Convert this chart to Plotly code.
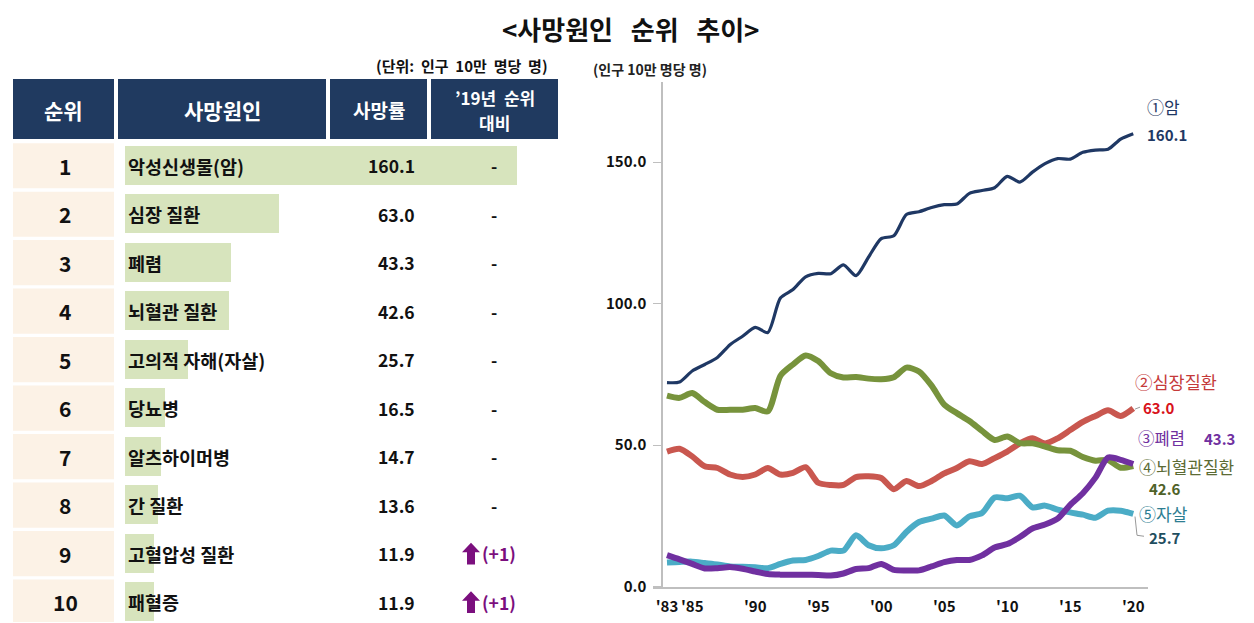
import plotly.graph_objects as go

# ---------------- data ----------------
years = list(range(1983, 2021))
cancer = [72.1, 72.3, 76.2, 78.5, 81.0, 85.5, 88.5, 91.6, 89.8, 102.0,
          105.0, 109.5, 110.7, 110.6, 113.7, 109.9, 116.5, 123.0, 124.0, 131.5,
          132.5, 134.0, 135.0, 135.2, 139.0, 140.0, 141.0, 145.0, 143.0, 146.5,
          149.5, 151.3, 151.1, 153.5, 154.3, 154.6, 158.2, 160.1]
heart = [47.7, 48.7, 46.0, 42.5, 41.9, 39.6, 38.7, 39.6, 41.9, 39.6,
         40.2, 42.2, 36.7, 35.9, 35.9, 38.7, 39.0, 38.4, 34.4, 37.3,
         35.5, 37.3, 40.0, 41.9, 44.3, 43.3, 45.4, 47.7, 50.6, 52.4,
         50.6, 52.4, 55.3, 58.2, 60.3, 62.3, 60.3, 63.0]
pneumonia = [11.1, 9.6, 8.0, 6.4, 6.5, 6.9, 6.3, 5.3, 4.4, 4.2,
             4.2, 4.2, 4.1, 3.9, 4.6, 6.2, 6.5, 8.0, 5.9, 5.7,
             5.7, 7.1, 8.6, 9.4, 9.4, 11.0, 13.8, 15.0, 17.5, 20.5,
             21.9, 24.0, 28.9, 33.0, 38.5, 45.6, 44.8, 43.3]
cerebro = [67.5, 66.7, 68.4, 65.2, 62.5, 62.5, 62.5, 63.1, 61.9, 74.5,
           78.5, 81.7, 79.7, 75.4, 73.9, 74.1, 73.5, 73.3, 74.0, 77.4,
           76.0, 71.0, 64.3, 61.3, 58.5, 55.0, 51.8, 53.0, 50.7, 50.6,
           49.5, 48.2, 48.0, 45.8, 44.5, 44.7, 42.0, 42.6]
suicide = [8.5, 8.7, 8.8, 8.3, 7.8, 7.1, 7.0, 6.8, 6.5, 8.0,
           9.2, 9.4, 10.8, 12.7, 12.7, 18.1, 14.6, 13.5, 14.6, 19.3,
           22.8, 24.0, 25.1, 21.6, 24.8, 26.0, 31.5, 31.2, 32.1, 28.0,
           28.6, 27.2, 26.2, 25.4, 24.3, 26.8, 26.8, 25.7]

x_tickvals = [1983, 1985, 1990, 1995, 2000, 2005, 2010, 2015, 2020]
x_ticktext = ["'83", "'85", "'90", "'95", "'00", "'05", "'10", "'15", "'20"]
y_tickvals = [0, 50, 100, 150]
y_ticktext = ["0.0", "50.0", "100.0", "150.0"]

ranks = [1, 2, 3, 4, 5, 6, 7, 8, 9, 10]
causes = ["악성신생물(암)", "심장 질환", "폐렴", "뇌혈관 질환", "고의적 자해(자살)",
          "당뇨병", "알츠하이머병", "간 질환", "고혈압성 질환", "패혈증"]
rates = [160.1, 63.0, 43.3, 42.6, 25.7, 16.5, 14.7, 13.6, 11.9, 11.9]
changes = ["-", "-", "-", "-", "-", "-", "-", "-", "(+1)", "(+1)"]
headers = ["순위", "사망원인", "사망률", "\u201919년\u00a0\u00a0순위|대비"]

# ---------------- helpers ----------------
W, H = 1254, 623
FONT = "Noto Sans CJK KR"
NB = "\u00a0"


def X(px):
    return px / W


def Y(py):
    return 1 - py / H


fig = go.Figure()

# ---------------- right chart: lines ----------------
series = [
    ("암", cancer, "#1F3864", 3.2),
    ("심장질환", heart, "#C9574F", 6),
    ("뇌혈관질환", cerebro, "#77933C", 6),
    ("자살", suicide, "#4BACC6", 6),
    ("폐렴", pneumonia, "#7030A0", 6),
]
for name, vals, col, w in series:
    fig.add_trace(go.Scatter(x=years, y=vals, mode="lines", name=name,
                             line=dict(color=col, width=w, shape="spline", smoothing=0.7),
                             xaxis="x", yaxis="y", showlegend=False, hoverinfo="x+y"))

# ---------------- left table: bars ----------------
fig.add_trace(go.Bar(x=rates, y=ranks, orientation="h", marker=dict(color="#D7E4BD", line=dict(width=0)),
                     width=0.8, xaxis="x2", yaxis="y2", showlegend=False, hoverinfo="x"))

shapes = []
annotations = []

# header cells
hdr_cols = [(5, 106), (110, 318), (322, 419), (423, 550)]
hdr_sizes = [21, 21, 19, 17]
for (x0, x1), txt, fs in zip(hdr_cols, headers, hdr_sizes):
    shapes.append(dict(type="rect", xref="paper", yref="paper", x0=X(x0), x1=X(x1), y0=Y(133), y1=Y(72),
                       fillcolor="#203A60", line=dict(width=0), layer="below"))
    parts = txt.split("|")
    ys = [103] if len(parts) == 1 else [91, 116]
    for p, yy in zip(parts, ys):
        annotations.append(dict(xref="paper", yref="paper", x=X((x0 + x1) / 2), y=Y(yy), text=p,
                                showarrow=False, xanchor="center", yanchor="middle",
                                font=dict(family=FONT, size=fs, color="white", weight="bold")))

# rank cells, text
for r, c, v, ch in zip(ranks, causes, rates, changes):
    shapes.append(dict(type="rect", xref="paper", yref="y2", x0=X(5), x1=X(106), y0=r - 0.465, y1=r + 0.465,
                       fillcolor="#FCF2E6", line=dict(width=0), layer="below"))
    annotations.append(dict(xref="paper", yref="y2", x=X(57), y=r, text=str(r), showarrow=False,
                            xanchor="center", yanchor="middle",
                            font=dict(family=FONT, size=21, color="#111111", weight="bold")))
    annotations.append(dict(xref="paper", yref="y2", x=X(118), y=r, text=c, showarrow=False,
                            xanchor="left", yanchor="middle",
                            font=dict(family=FONT, size=18.5, color="#111111", weight="bold")))
    annotations.append(dict(xref="paper", yref="y2", x=X(409), y=r, text=f"{v:.1f}", showarrow=False,
                            xanchor="right", yanchor="middle",
                            font=dict(family=FONT, size=17.5, color="#111111", weight="bold")))
    if ch == "-":
        annotations.append(dict(xref="paper", yref="y2", x=X(486), y=r, text="-", showarrow=False,
                                xanchor="center", yanchor="middle",
                                font=dict(family=FONT, size=17, color="#111111", weight="bold")))
    else:
        annotations.append(dict(xref="paper", yref="y2", x=X(472), y=r, text=ch, showarrow=False,
                                xanchor="left", yanchor="middle",
                                font=dict(family=FONT, size=17.5, color="#7B0F7E", weight="bold")))
        u = 1 / 49.2
        pts = [(463, -11), (472, -1.5), (467, -1.5), (467, 11), (459, 11), (459, -1.5), (454, -1.5)]
        path = "M " + " L ".join(f"{X(px)},{r + dy * u}" for px, dy in pts) + " Z"
        shapes.append(dict(type="path", xref="paper", yref="y2", path=path,
                           fillcolor="#7B0F7E", line=dict(width=0)))

# unit label for table
annotations.append(dict(xref="paper", yref="paper", x=X(542), y=Y(58),
                        text=f"(단위:{NB} 인구{NB} 10만{NB} 명당{NB} 명)",
                        showarrow=False, xanchor="right", yanchor="middle",
                        font=dict(family=FONT, size=15, color="#111111", weight="bold")))

# title
annotations.append(dict(xref="paper", yref="paper", x=X(622), y=Y(21),
                        text=f"<사망원인{NB} {NB}순위{NB} {NB}추이>",
                        showarrow=False, xanchor="center", yanchor="middle",
                        font=dict(family=FONT, size=26, color="#111111", weight="bold")))

# chart unit label
annotations.append(dict(xref="paper", yref="paper", x=X(583), y=Y(62), text="(인구 10만 명당 명)",
                        showarrow=False, xanchor="left", yanchor="middle",
                        font=dict(family=FONT, size=14, color="#222222", weight="bold")))

# series labels at line ends
labels = [
    ("①암", 1138, 100, "#1F3864", 17, f"{cancer[-1]:.1f}", 1138, 128, "#1F3864"),
    ("②심장질환", 1126, 379, "#C53A3A", 17.5, f"{heart[-1]:.1f}", 1134, 405, "#D8121B"),
    ("④뇌혈관질환", 1130, 465, "#5C6B34", 17, f"{cerebro[-1]:.1f}", 1140, 488, "#4F6228"),
    ("⑤자살", 1130, 513, "#2E7E92", 17, f"{suicide[-1]:.1f}", 1140, 537, "#1F4E5F"),
]
for t, lx, ly, col, fs, vtxt, vx, vy, vcol in labels:
    annotations.append(dict(xref="paper", yref="paper", x=X(lx), y=Y(ly), text=t, showarrow=False,
                            xanchor="left", yanchor="middle", borderpad=0,
                            font=dict(family=FONT, size=fs, color=col)))
    annotations.append(dict(xref="paper", yref="paper", x=X(vx), y=Y(vy), text=vtxt, showarrow=False,
                            xanchor="left", yanchor="middle", borderpad=0,
                            font=dict(family=FONT, size=15, color=vcol, weight="bold")))
annotations.append(dict(xref="paper", yref="paper", x=X(1129), y=Y(436), text="③폐렴", showarrow=False,
                        xanchor="left", yanchor="middle", borderpad=0,
                        font=dict(family=FONT, size=16.5, color="#7030A0")))
annotations.append(dict(xref="paper", yref="paper", x=X(1195), y=Y(437), text=f"{pneumonia[-1]:.1f}",
                        showarrow=False, xanchor="left", yanchor="middle", borderpad=0,
                        font=dict(family=FONT, size=15, color="#7030A0", weight="bold")))

# leader lines
shapes.append(dict(type="path", xref="paper", yref="paper",
                   path=f"M {X(1127)},{Y(407)} L {X(1132)},{Y(405)}",
                   line=dict(color="#999999", width=1)))
shapes.append(dict(type="path", xref="paper", yref="paper",
                   path=f"M {X(1127)},{Y(516)} L {X(1129)},{Y(535)} L {X(1136)},{Y(536)}",
                   line=dict(color="#999999", width=1)))

fig.update_layout(
    width=W, height=H,
    margin=dict(l=0, r=0, t=0, b=0),
    paper_bgcolor="white", plot_bgcolor="rgba(0,0,0,0)",
    font=dict(family=FONT),
    shapes=shapes, annotations=annotations,
    bargap=0,
    xaxis=dict(domain=[X(645), X(1140)], range=[1981.89, 2021.17],
               tickvals=x_tickvals, ticktext=x_ticktext, ticks="", showgrid=False, zeroline=False,
               showline=True, linecolor="#BFBFBF", linewidth=1.5, anchor="y",
               tickfont=dict(family=FONT, size=15, color="#111111", weight="bold"),
               ticklabelstandoff=6, fixedrange=True),
    yaxis=dict(domain=[Y(587), Y(75)], range=[0, 178.4], anchor="free", position=X(654),
               tickvals=y_tickvals, ticktext=y_ticktext, ticks="outside", ticklen=8,
               tickcolor="#BFBFBF", showgrid=False, zeroline=False,
               showline=True, linecolor="#BFBFBF", linewidth=1.5,
               tickfont=dict(family=FONT, size=15, color="#111111", weight="bold"),
               ticklabelstandoff=4, fixedrange=True),
    xaxis2=dict(domain=[X(116.5), X(116.5 + 2.45 * 200)], range=[0, 200], visible=False,
                anchor="y2", fixedrange=True),
    yaxis2=dict(domain=[0, Y(135.4)], range=[10.41, 0.5], visible=False, anchor="x2", fixedrange=True),
)

fig.write_html("out.html")
